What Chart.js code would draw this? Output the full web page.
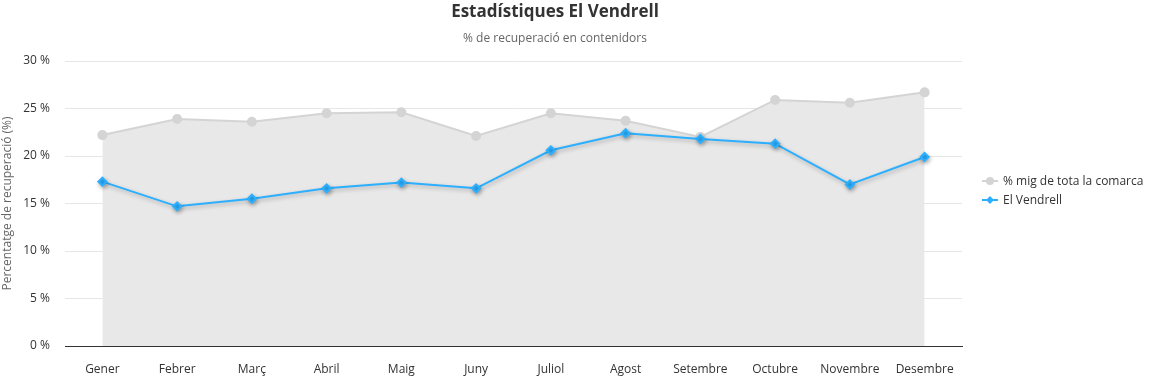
<!DOCTYPE html>
<html>
<head>
<meta charset="utf-8">
<script src="https://cdn.jsdelivr.net/npm/chart.js@4"></script>
<style>
html,body{margin:0;padding:0;background:#fff;}
#wrap{width:1156px;height:380px;position:relative;}
</style>
</head>
<body>
<div id="wrap"><canvas id="c" width="1156" height="380"></canvas></div>
<script>
const categories = ["Gener","Febrer","Març","Abril","Maig","Juny","Juliol","Agost","Setembre","Octubre","Novembre","Desembre"];
const comarcaValues = [22.2, 23.9, 23.6, 24.5, 24.6, 22.1, 24.5, 23.7, 22.0, 25.9, 25.6, 26.7];
const vendrellValues = [17.3, 14.7, 15.5, 16.6, 17.2, 16.6, 20.6, 22.4, 21.8, 21.3, 17.0, 19.9];
const yTicks = [0, 5, 10, 15, 20, 25, 30];
const seriesNames = ["% mig de tota la comarca", "El Vendrell"];
const titleText = "Estadístiques El Vendrell";
const subtitleText = "% de recuperació en contenidors";
const yAxisTitle = "Percentatge de recuperació (%)";

const FONT = "'Open Sans', 'Noto Sans', sans-serif";
const GREY_LINE = "#d4d4d4";
const GREY_FILL = "#e8e8e8";
const BLUE = "#2caffe";

const shadowPlugin = {
  id: 'shadow',
  beforeDatasetDraw(chart, args) {
    if (args.index === 1) {
      const ctx = chart.ctx;
      ctx.save();
      ctx.shadowColor = 'rgba(0,0,0,0.28)';
      ctx.shadowBlur = 4;
      ctx.shadowOffsetX = 1;
      ctx.shadowOffsetY = 2;
    }
  },
  afterDatasetDraw(chart, args) {
    if (args.index === 1) chart.ctx.restore();
  }
};

const titlePlugin = {
  id: 'customTitle',
  afterDraw(chart) {
    const ctx = chart.ctx;
    ctx.save();
    ctx.textAlign = 'center';
    ctx.textBaseline = 'middle';
    ctx.fillStyle = '#333333';
    ctx.font = "bold 17px " + FONT;
    ctx.fillText(titleText, 555, 12);
    ctx.fillStyle = '#666666';
    ctx.font = "12px " + FONT;
    ctx.fillText(subtitleText, 555, 39);
    ctx.restore();
  }
};

const legendPlugin = {
  id: 'customLegend',
  afterDraw(chart) {
    const ctx = chart.ctx;
    const x0 = 982, ys = [181, 200];
    ctx.save();
    chart.data.datasets.forEach((ds, i) => {
      const y = ys[i];
      ctx.strokeStyle = ds.borderColor;
      ctx.lineWidth = 2;
      ctx.beginPath();
      ctx.moveTo(x0, y);
      ctx.lineTo(x0 + 16, y);
      ctx.stroke();
      ctx.fillStyle = ds.pointBackgroundColor;
      ctx.beginPath();
      if (i === 0) {
        ctx.arc(x0 + 8, y, 4, 0, Math.PI * 2);
      } else {
        ctx.moveTo(x0 + 8, y - 4);
        ctx.lineTo(x0 + 12, y);
        ctx.lineTo(x0 + 8, y + 4);
        ctx.lineTo(x0 + 4, y);
        ctx.closePath();
      }
      ctx.fill();
      ctx.fillStyle = '#333333';
      ctx.font = "12px " + FONT;
      ctx.textAlign = 'left';
      ctx.textBaseline = 'middle';
      ctx.fillText(ds.label, x0 + 21, y + 1);
    });
    ctx.restore();
  }
};

new Chart(document.getElementById('c'), {
  type: 'line',
  data: {
    labels: categories,
    datasets: [
      {
        label: seriesNames[0],
        data: comarcaValues,
        borderColor: GREY_LINE,
        backgroundColor: GREY_FILL,
        pointBackgroundColor: GREY_LINE,
        pointBorderColor: GREY_LINE,
        pointStyle: 'circle',
        pointRadius: 4,
        borderWidth: 2,
        fill: 'origin',
        tension: 0,
        order: 2
      },
      {
        label: seriesNames[1],
        data: vendrellValues,
        borderColor: BLUE,
        backgroundColor: BLUE,
        pointBackgroundColor: BLUE,
        pointBorderColor: BLUE,
        pointStyle: 'rectRot',
        pointRadius: 4,
        borderWidth: 2,
        fill: false,
        tension: 0,
        order: 1
      }
    ]
  },
  options: {
    responsive: false,
    animation: false,
    events: [],
    layout: { padding: { top: 61, right: 194, bottom: 0, left: 0 } },
    plugins: {
      legend: { display: false },
      title: { display: false },
      tooltip: { enabled: false }
    },
    scales: {
      x: {
        offset: true,
        grid: { display: false, drawTicks: false },
        border: { display: true, color: '#333333', width: 1 },
        ticks: { color: '#333333', font: { family: FONT, size: 12 }, padding: 16, maxRotation: 0, autoSkip: false },
        afterFit(axis) { axis.height = 34; }
      },
      y: {
        min: 0,
        max: 30,
        afterBuildTicks(axis) { axis.ticks = yTicks.map(v => ({ value: v })); },
        afterFit(axis) { axis.width = 65; },
        grid: { color: '#e6e6e6', drawTicks: false },
        border: { display: false },
        ticks: {
          color: '#333333',
          font: { family: FONT, size: 12 },
          padding: 15,
          callback: v => v + ' %'
        },
        title: {
          display: true,
          text: yAxisTitle,
          color: '#666666',
          font: { family: FONT, size: 12 },
          padding: { top: 0, bottom: 0 }
        }
      }
    }
  },
  plugins: [shadowPlugin, titlePlugin, legendPlugin]
});
</script>
</body>
</html>
